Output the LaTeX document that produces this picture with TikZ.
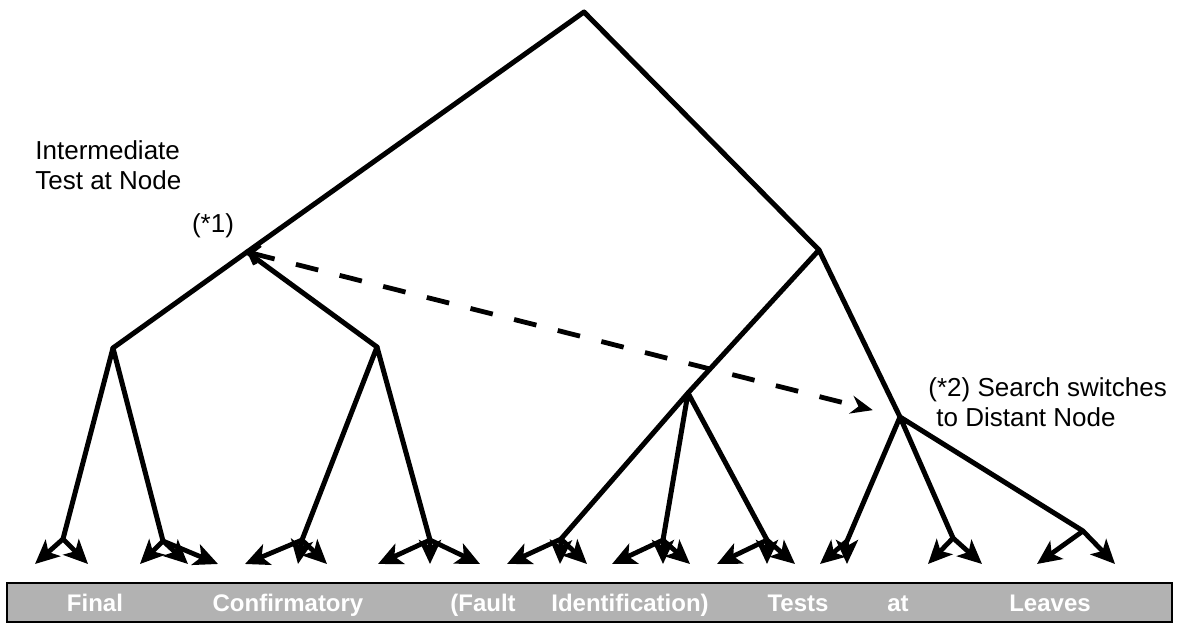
\documentclass[tikz,border=0pt]{standalone}
\usepackage{fontspec}
\setmainfont{Liberation Sans}
\usetikzlibrary{arrows.meta}

\begin{document}
\begin{tikzpicture}[x=0.5pt, y=-0.5pt,
	branch/.style={line width=2.5pt, line cap=round, line join=round},
	leafarrow/.style={line width=2.4pt, -{Stealth[length=12pt,width=11pt,inset=3pt]}},
	jump/.style={line width=2.4pt, dash pattern=on 11.5pt off 11pt,
		{Straight Barb[length=4pt,width=10pt]}-{Stealth[length=11pt,width=9pt]}, shorten >=14pt},
	note/.style={font=\fontsize{13}{15}\selectfont, align=left, inner sep=0pt},
	word/.style={font=\fontsize{12}{14}\selectfont\bfseries, text=white, inner sep=0pt, anchor=base}]
	\useasboundingbox (0,0) rectangle (1187,635);

	\coordinate (root) at (584,12);
	\coordinate (A)    at (247,252);
	\coordinate (B)    at (819,250);
	\coordinate (A1)   at (113,348);
	\coordinate (A2)   at (377,347);
	\coordinate (B1)   at (688,393);
	\coordinate (B2)   at (900,417);

	\coordinate (l1)  at (63,539);
	\coordinate (l2)  at (163,541);
	\coordinate (l3)  at (302,540);
	\coordinate (l4)  at (430,540);
	\coordinate (l5)  at (561,539);
	\coordinate (l6)  at (663,540);
	\coordinate (l7)  at (767,540);
	\coordinate (l8)  at (847,541);
	\coordinate (l9)  at (953,538);
	\coordinate (l10) at (1083,531);

	\draw[branch] (root) -- (A) (root) -- (B);
	\draw[branch] (A) -- (A1) (A) -- (A2);
	\draw[branch] (B) -- (B1) (B) -- (B2);
	\draw[branch] (A1) -- (l1) (A1) -- (l2) (A2) -- (l3) (A2) -- (l4);
	\draw[branch] (B1) -- (l5) (B1) -- (l6) (B1) -- (l7);
	\draw[branch] (B2) -- (l8) (B2) -- (l9) (B2) -- (l10);

	% leaf tests
	\foreach \leaf/\tx [count=\i] in {l1/35, l1/88, l2/140, l2/188, l2/218,
		l3/245, l3/298, l3/327, l4/378, l4/430, l4/480,
		l5/507, l5/560, l5/587, l6/612, l6/663, l6/690,
		l7/717, l7/767, l7/795, l8/820, l8/847,
		l9/928, l9/982, l10/1037, l10/1115}
	{
		\coordinate (tip\i) at (\tx,564);
		\draw[leafarrow] (\leaf) -- (tip\i);
	}

	\draw[jump] (A) -- (B2);

	\node[note, anchor=north west] (inter) at (35,140) {Intermediate\\Test at Node};
	\node[note] (mark1) at (213,226) {(*1)};
	\node[note, anchor=north west] (mark2) at (928,377) {(*2) Search switches\\\hspace{4pt}to Distant Node};

	\node[draw=black, line width=1.4pt, fill=gray!60, minimum width=582.5pt,
		minimum height=19.5pt, inner sep=0pt] (bar) at (589.5,602.5) {};
	\node[word] (w1) at (95,611)   {Final};
	\node[word] (w2) at (288,611)  {Confirmatory};
	\node[word] (w3) at (483,611)  {(Fault};
	\node[word] (w4) at (630,611)  {Identification)};
	\node[word] (w5) at (798,611)  {Tests};
	\node[word] (w6) at (898,611)  {at};
	\node[word] (w7) at (1050,611) {Leaves};
\end{tikzpicture}
\end{document}
